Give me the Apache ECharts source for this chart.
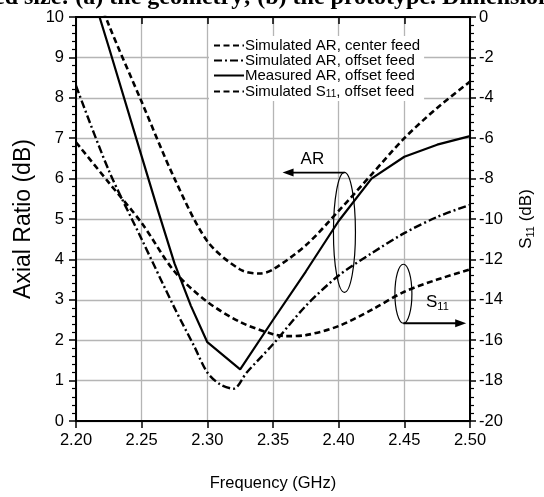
<!DOCTYPE html>
<html><head><meta charset="utf-8">
<script src="https://cdn.jsdelivr.net/npm/echarts@6/dist/echarts.min.js"></script>
<style>html,body{margin:0;padding:0;background:#fff}#c{width:544px;height:497px}</style>
</head><body><div id="c"></div>
<script>
// ---- data ----
const freqCenter = [2.20, 2.225, 2.25, 2.275, 2.30, 2.325, 2.34, 2.35, 2.375, 2.40, 2.425, 2.45, 2.475, 2.50];
const arCenter   = [11.9, 9.8, 7.9, 6.0, 4.45, 3.75, 3.65, 3.75, 4.35, 5.2, 6.1, 7.0, 7.75, 8.4];

const freqOffsetSim = [2.20, 2.225, 2.25, 2.275, 2.29, 2.30, 2.31, 2.32, 2.33, 2.35, 2.375, 2.40, 2.425, 2.45, 2.475, 2.50];
const arOffsetSim   = [8.3, 6.2, 4.5, 2.8, 1.85, 1.2, 0.9, 0.8, 1.2, 1.9, 2.85, 3.6, 4.15, 4.65, 5.05, 5.35];

const freqMeas = [2.20, 2.225, 2.25, 2.2625, 2.275, 2.2875, 2.30, 2.325, 2.35, 2.375, 2.40, 2.425, 2.45, 2.475, 2.50];
const arMeas   = [11.9, 9.25, 6.55, 5.2, 3.9, 2.85, 1.95, 1.28, 2.5, 3.7, 4.95, 6.0, 6.54, 6.84, 7.05];

const freqS11 = [2.20, 2.225, 2.25, 2.275, 2.30, 2.325, 2.35, 2.36, 2.375, 2.40, 2.425, 2.45, 2.475, 2.50];
const s11Sim  = [-6.2, -8.2, -10.2, -12.6, -14.1, -15.1, -15.7, -15.8, -15.75, -15.3, -14.5, -13.6, -13.0, -12.5];

const xTicks = [2.20, 2.25, 2.30, 2.35, 2.40, 2.45, 2.50];
const names = ['Simulated AR, center feed', 'Simulated AR, offset feed', 'Measured AR, offset feed', 'Simulated S11, offset feed'];

const pair = (xs, ys) => xs.map((x, i) => [x, ys[i]]);
const SANS = '"Liberation Sans", Arial, sans-serif';

const chart = echarts.init(document.getElementById('c'), null, {renderer: 'canvas'});
const dash = [6, 3.5];
const dashDot = [8, 3, 2, 3];

chart.setOption({
  animation: false,
  backgroundColor: '#fff',
  grid: {left: 76, right: 73, top: 17, bottom: 75, containLabel: false},
  legend: {
    left: 209, top: 36, orient: 'vertical', itemGap: 0, itemWidth: 30, itemHeight: 12,
    padding: [2, 4, 2, 4],
    backgroundColor: '#fff',
    data: names,
    itemStyle: {opacity: 0},
    textStyle: {fontFamily: SANS, fontSize: 15, color: '#000', lineHeight: 15, padding: [0, 0, 0, -4],
      rich: {sub: {fontFamily: SANS, fontSize: 10, verticalAlign: 'bottom', lineHeight: 10, padding: [6, 0, 0, 0]}}},
    formatter: n => n.replace('S11', 'S{sub|11}')
  },
  xAxis: [{
    type: 'value', min: 2.2, max: 2.5, interval: 0.05, position: 'bottom',
    name: 'Frequency (GHz)', nameLocation: 'middle', nameGap: 54,
    nameTextStyle: {fontFamily: SANS, fontSize: 16.5, color: '#000'},
    axisLine: {onZero: false, lineStyle: {color: '#000', width: 2}},
    axisTick: {show: true, inside: false, length: 7, lineStyle: {color: '#000', width: 1.5}},
    axisLabel: {margin: 11, fontFamily: SANS, fontSize: 16.5, color: '#000',
      formatter: v => xTicks.some(t => Math.abs(t - v) < 1e-6) ? v.toFixed(2) : ''},
    splitLine: {show: true, lineStyle: {color: '#b5b5b5', width: 1.3}}
  }, {
    type: 'value', min: 2.2, max: 2.5, interval: 0.05, position: 'top',
    axisLine: {onZero: false, lineStyle: {color: '#000', width: 2}},
    axisTick: {show: true, inside: true, length: 7, lineStyle: {color: '#000', width: 1.5}},
    axisLabel: {show: false}, splitLine: {show: false}
  }],
  yAxis: [{
    type: 'value', min: 0, max: 10, interval: 1, position: 'left',
    name: 'Axial Ratio (dB)', nameLocation: 'middle', nameGap: 34,
    nameTextStyle: {fontFamily: SANS, fontSize: 23, color: '#000'},
    axisLine: {show: true, onZero: false, lineStyle: {color: '#000', width: 2}},
    axisTick: {show: true, length: 7, lineStyle: {color: '#000', width: 1.5}},
    minorTick: {show: true, splitNumber: 5, length: 4, lineStyle: {color: '#000', width: 1.2}},
    axisLabel: {margin: 12, fontFamily: SANS, fontSize: 16.5, color: '#000'},
    splitLine: {show: true, lineStyle: {color: '#b5b5b5', width: 1.3}}
  }, {
    type: 'value', min: -20, max: 0, interval: 2, position: 'right',
    name: 'S{sub|11} (dB)', nameLocation: 'middle', nameGap: 47, nameRotate: 90,
    nameTextStyle: {fontFamily: SANS, fontSize: 17, color: '#000',
      rich: {sub: {fontFamily: SANS, fontSize: 11, verticalAlign: 'bottom', padding: [8, 0, 0, 0]}}},
    axisLine: {show: true, onZero: false, lineStyle: {color: '#000', width: 2}},
    axisTick: {show: true, length: 6, lineStyle: {color: '#000', width: 1.5}},
    minorTick: {show: true, splitNumber: 5, length: 4, lineStyle: {color: '#000', width: 1.2}},
    axisLabel: {margin: 9, fontFamily: SANS, fontSize: 16.5, color: '#000'},
    splitLine: {show: false}
  }],
  series: [
    {name: names[0], type: 'line', xAxisIndex: 0, yAxisIndex: 0, data: pair(freqCenter, arCenter),
     smooth: 0.3, symbol: 'none', lineStyle: {color: '#000', width: 2.6, type: dash}, itemStyle: {color: '#000'}, z: 5},
    {name: names[1], type: 'line', xAxisIndex: 0, yAxisIndex: 0, data: pair(freqOffsetSim, arOffsetSim),
     smooth: 0.3, symbol: 'none', lineStyle: {color: '#000', width: 2.4, type: dashDot}, itemStyle: {color: '#000'}, z: 5},
    {name: names[2], type: 'line', xAxisIndex: 0, yAxisIndex: 0, data: pair(freqMeas, arMeas),
     smooth: false, symbol: 'none', lineStyle: {color: '#000', width: 2.2, type: 'solid'}, itemStyle: {color: '#000'}, z: 5},
    {name: names[3], type: 'line', xAxisIndex: 0, yAxisIndex: 1, data: pair(freqS11, s11Sim),
     smooth: 0.3, symbol: 'none', lineStyle: {color: '#000', width: 2.6, type: dash}, itemStyle: {color: '#000'}, z: 5}
  ]
});

// annotations positioned through the chart's own scales
const P = (f, ar) => chart.convertToPixel({xAxisIndex: 0, yAxisIndex: 0}, [f, ar]);
const e1 = P(2.4044, 4.67), a1s = P(2.4044, 6.15), a1e = P(2.3573, 6.15), t1 = P(2.380, 6.47);
const e2 = P(2.4493, 3.15), a2s = P(2.4493, 2.42), a2e = P(2.4971, 2.42), t2 = P(2.4665, 2.93);
chart.setOption({
  graphic: [
    {type: 'text', x: -6, y: -2, z: 100, style: {text: 'ed size: (a) the geometry; (b) the prototype. Dimensions',
      font: 'bold 24px "Liberation Serif", "Times New Roman", serif', fill: '#000', verticalAlign: 'middle'}},
    {type: 'ellipse', z: 50, shape: {cx: e1[0], cy: e1[1], rx: 11, ry: 60}, style: {stroke: '#000', lineWidth: 1.2, fill: null}},
    {type: 'line', z: 50, shape: {x1: a1s[0], y1: a1s[1], x2: a1e[0] + 8, y2: a1e[1]}, style: {stroke: '#000', lineWidth: 1.8}},
    {type: 'polygon', z: 50, shape: {points: [[a1e[0], a1e[1]], [a1e[0] + 11, a1e[1] - 4], [a1e[0] + 11, a1e[1] + 4]]}, style: {fill: '#000'}},
    {type: 'text', z: 50, x: t1[0], y: t1[1], style: {text: 'AR', font: '17px ' + SANS, fill: '#000', align: 'center', verticalAlign: 'middle'}},
    {type: 'ellipse', z: 50, shape: {cx: e2[0], cy: e2[1], rx: 8.5, ry: 29.5}, style: {stroke: '#000', lineWidth: 1.2, fill: null}},
    {type: 'line', z: 50, shape: {x1: a2s[0], y1: a2s[1], x2: a2e[0] - 8, y2: a2e[1]}, style: {stroke: '#000', lineWidth: 1.8}},
    {type: 'polygon', z: 50, shape: {points: [[a2e[0], a2e[1]], [a2e[0] - 11, a2e[1] - 4], [a2e[0] - 11, a2e[1] + 4]]}, style: {fill: '#000'}},
    {type: 'text', z: 50, x: t2[0], y: t2[1], style: {text: 'S{sub|11}', font: '17px ' + SANS, fill: '#000', verticalAlign: 'middle',
      rich: {sub: {font: '11px ' + SANS, verticalAlign: 'bottom', padding: [9, 0, 0, 0]}}}}
  ]
});
</script></body></html>
